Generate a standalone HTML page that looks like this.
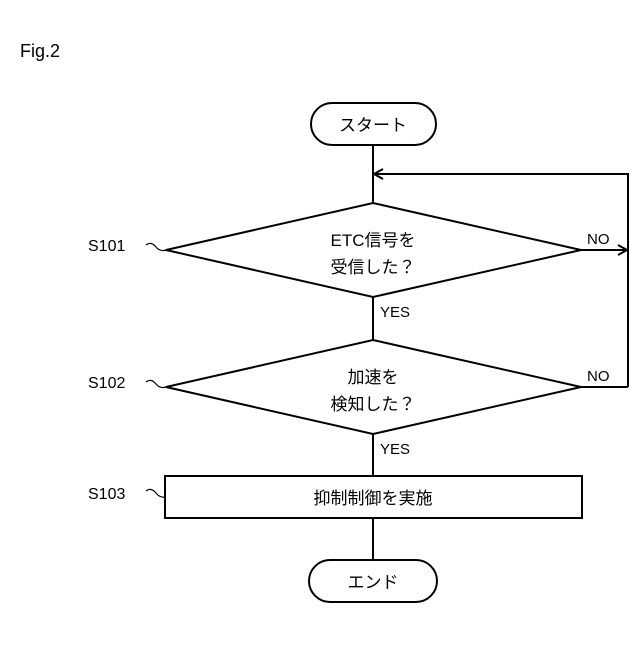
<!DOCTYPE html>
<html><head><meta charset="utf-8"><style>
body{margin:0;background:#fff}
svg text{font-family:"Liberation Sans","Noto Sans CJK JP",sans-serif;fill:#000}
</style></head><body>
<svg width="640" height="640" viewBox="0 0 640 640" xmlns="http://www.w3.org/2000/svg">
<g stroke="#000" stroke-width="2" fill="none">
<rect x="311" y="103" width="125" height="42" rx="21" fill="#fff"/>
<line x1="373" y1="145" x2="373" y2="203"/>
<polyline points="628,387 628,174 373,174"/>
<polyline points="383,169 374,174 383,179"/>
<polygon points="373,203 581,250 373,297 166,250" fill="#fff"/>
<line x1="581" y1="250" x2="628" y2="250"/>
<polyline points="618,245 627,250 618,255"/>
<line x1="373" y1="297" x2="373" y2="340"/>
<polygon points="373,340 581,387 373,434 166,387" fill="#fff"/>
<line x1="581" y1="387" x2="628" y2="387"/>
<line x1="373" y1="434" x2="373" y2="476"/>
<rect x="165" y="476" width="417" height="42" fill="#fff"/>
<line x1="373" y1="518" x2="373" y2="560"/>
<rect x="309" y="560" width="128" height="42" rx="21" fill="#fff"/>
<path d="M146,245 q5,-4 10,2 q4,5 10,3" stroke-width="1.2"/>
<path d="M146,382 q5,-4 10,2 q4,5 10,3" stroke-width="1.2"/>
<path d="M146,491 q5,-4 10,2 q4,5 9,4" stroke-width="1.2"/>
</g>
<text x="20" y="57" font-size="18">Fig.2</text>
<text x="373" y="131" font-size="17" text-anchor="middle">スタート</text>
<text x="373" y="246" font-size="17" text-anchor="middle">ETC信号を</text>
<text x="373" y="273" font-size="17" text-anchor="middle">受信した？</text>
<text x="373" y="383" font-size="17" text-anchor="middle">加速を</text>
<text x="373" y="410" font-size="17" text-anchor="middle">検知した？</text>
<text x="373" y="504" font-size="17" text-anchor="middle">抑制制御を実施</text>
<text x="373" y="588" font-size="17" text-anchor="middle">エンド</text>
<text x="88" y="251" font-size="16">S101</text>
<text x="88" y="388" font-size="16">S102</text>
<text x="88" y="499" font-size="16">S103</text>
<text x="587" y="244" font-size="15">NO</text>
<text x="587" y="381" font-size="15">NO</text>
<text x="380" y="317" font-size="15">YES</text>
<text x="380" y="454" font-size="15">YES</text>
</svg>
</body></html>
